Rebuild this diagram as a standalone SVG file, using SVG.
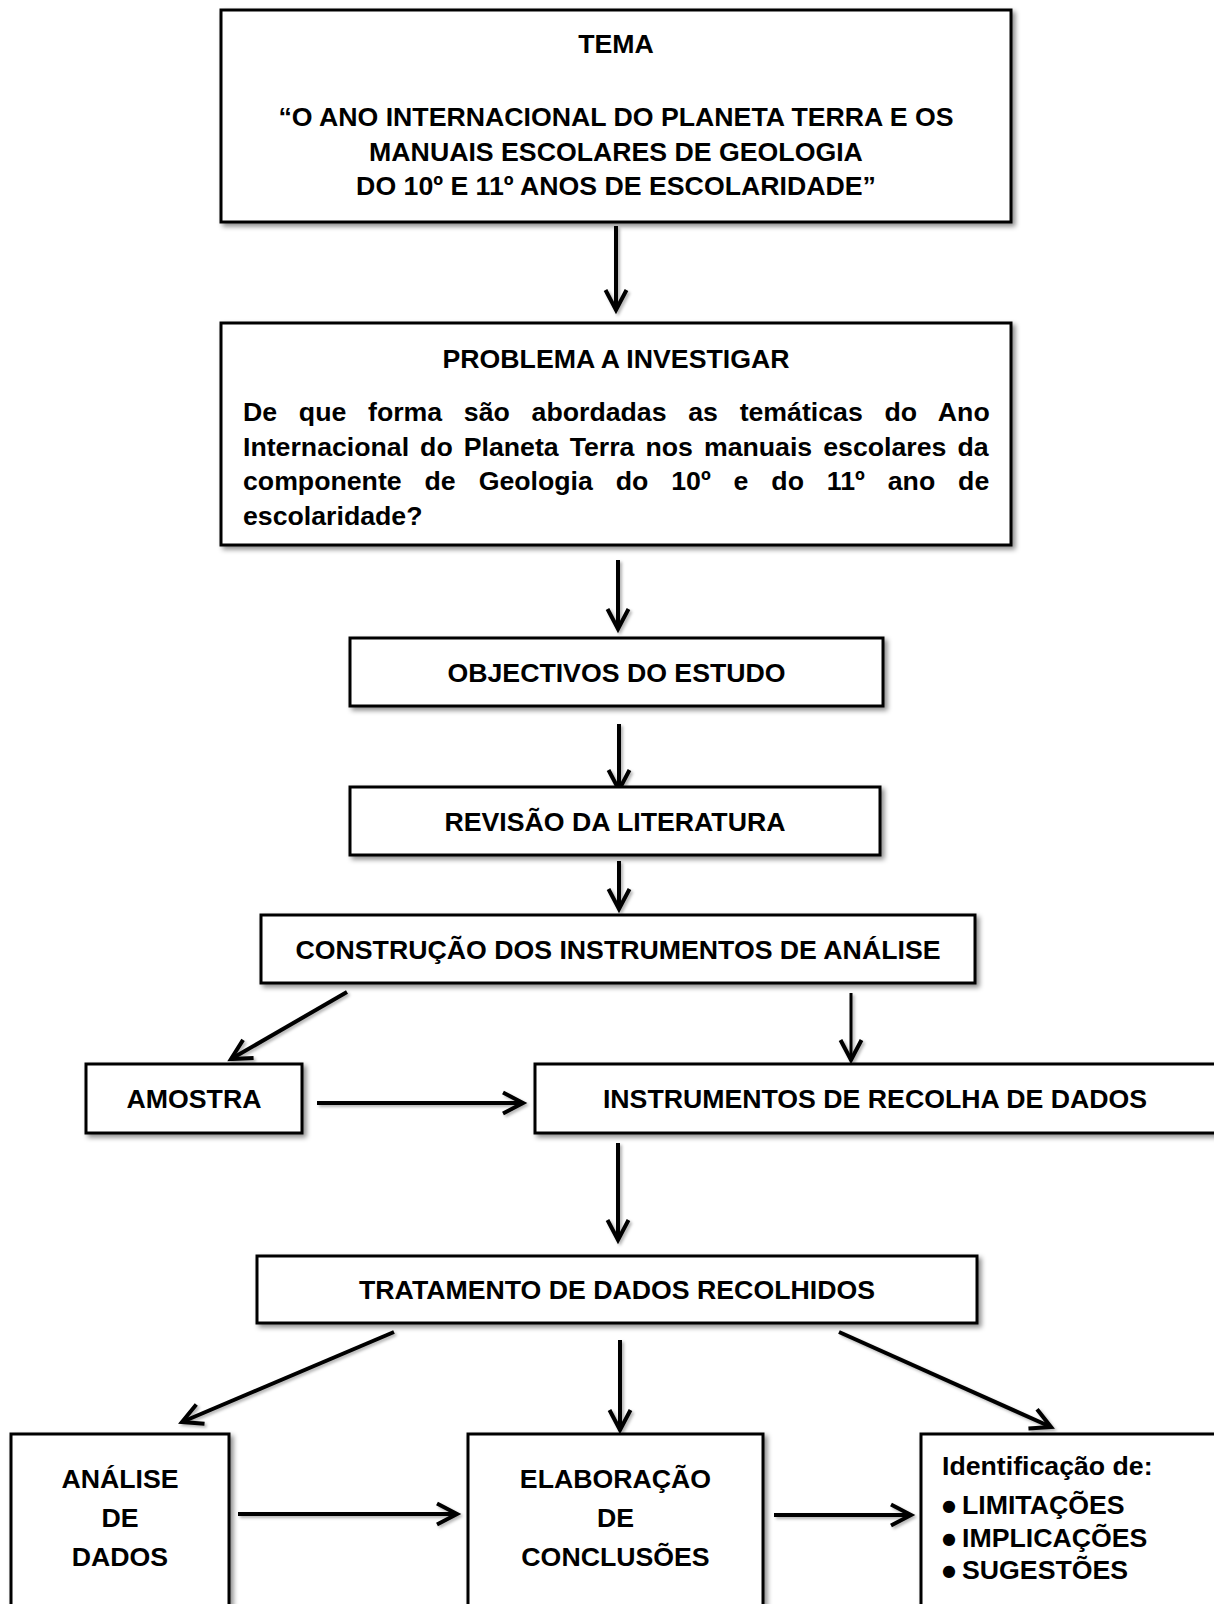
<svg xmlns="http://www.w3.org/2000/svg" width="1214" height="1604" viewBox="0 0 1214 1604">
  <defs>
    <filter id="shadow" x="-10%" y="-10%" width="125%" height="130%">
      <feDropShadow dx="3" dy="3" stdDeviation="2.5" flood-color="#000" flood-opacity="0.45"/>
    </filter>
    <filter id="lineShadow" filterUnits="userSpaceOnUse" x="0" y="0" width="1214" height="1604">
      <feDropShadow dx="2" dy="2" stdDeviation="1.5" flood-color="#000" flood-opacity="0.3"/>
    </filter>
    <marker id="arrow" markerUnits="userSpaceOnUse" viewBox="-26 -16 32 32" refX="0" refY="0" markerWidth="32" markerHeight="32" orient="auto" overflow="visible">
      <path d="M-20,-10.5 L0,0 L-20,10.5" fill="none" stroke="#000" stroke-width="4" stroke-linejoin="miter" stroke-linecap="butt"/>
    </marker>
  </defs>
  <style>
    .box { fill: #fff; stroke: #000; stroke-width: 3; filter: url(#shadow); }
    .t { font-family: "Liberation Sans", Arial, sans-serif; font-weight: bold; font-size: 26.7px; fill: #000; }
    .c { text-anchor: middle; }
    .bul { font-family: "DejaVu Sans", sans-serif; font-weight: normal; font-size: 16px; }
    .conn { stroke: #000; stroke-width: 4; fill: none; marker-end: url(#arrow); }
  </style>

  <rect width="1214" height="1604" fill="#fff"/>

  <!-- connectors -->
  <g id="connectors" filter="url(#lineShadow)">
    <line class="conn" x1="616" y1="226" x2="616" y2="310"/>
    <line class="conn" x1="618" y1="560" x2="618" y2="629"/>
    <line class="conn" x1="619" y1="724" x2="619" y2="790"/>
    <line class="conn" x1="619" y1="861" x2="619" y2="909"/>
    <line class="conn" x1="347" y1="992" x2="231" y2="1059"/>
    <line class="conn" x1="851" y1="993" x2="851" y2="1060" style="stroke-width:3"/>
    <line class="conn" x1="317" y1="1103" x2="523" y2="1103"/>
    <line class="conn" x1="618" y1="1143" x2="618" y2="1240"/>
    <line class="conn" x1="394" y1="1332" x2="182" y2="1422"/>
    <line class="conn" x1="620" y1="1340" x2="620" y2="1430"/>
    <line class="conn" x1="839" y1="1332" x2="1051" y2="1427"/>
    <line class="conn" x1="238" y1="1514" x2="457" y2="1514"/>
    <line class="conn" x1="774" y1="1515" x2="911" y2="1515"/>
  </g>

  <!-- theme -->
  <g id="tema">
    <rect class="box" x="221" y="10" width="790" height="212"/>
    <text class="t c" x="616" y="53">TEMA</text>
    <text class="t c" x="616" y="126">“O ANO INTERNACIONAL DO PLANETA TERRA E OS</text>
    <text class="t c" x="616" y="160.5">MANUAIS ESCOLARES DE GEOLOGIA</text>
    <text class="t c" x="616" y="195">DO 10º E 11º ANOS DE ESCOLARIDADE”</text>
  </g>

  <!-- research problem -->
  <g id="problema">
    <rect class="box" x="221" y="323" width="790" height="222"/>
    <text class="t c" x="616" y="368">PROBLEMA A INVESTIGAR</text>
    <text class="t" x="243" y="421" word-spacing="14.3">De que forma são abordadas as temáticas do Ano</text>
    <text class="t" x="243" y="456" word-spacing="3.6">Internacional do Planeta Terra nos manuais escolares da</text>
    <text class="t" x="243" y="490" word-spacing="15.5">componente de Geologia do 10º e do 11º ano de</text>
    <text class="t" x="243" y="525">escolaridade?</text>
  </g>

  <g id="objectivos">
    <rect class="box" x="350" y="638" width="533" height="68"/>
    <text class="t c" x="616.5" y="682">OBJECTIVOS DO ESTUDO</text>
  </g>

  <g id="revisao">
    <rect class="box" x="350" y="787" width="530" height="68"/>
    <text class="t c" x="615" y="830.5">REVISÃO DA LITERATURA</text>
  </g>

  <g id="construcao">
    <rect class="box" x="261" y="915" width="714" height="68"/>
    <text class="t c" x="618" y="958.5">CONSTRUÇÃO DOS INSTRUMENTOS DE ANÁLISE</text>
  </g>

  <g id="amostra">
    <rect class="box" x="86" y="1064" width="216" height="69"/>
    <text class="t c" x="194" y="1108">AMOSTRA</text>
  </g>

  <g id="instrumentos">
    <rect class="box" x="535" y="1064" width="682" height="69"/>
    <text class="t c" x="875" y="1108">INSTRUMENTOS DE RECOLHA DE DADOS</text>
  </g>

  <g id="tratamento">
    <rect class="box" x="257" y="1256" width="720" height="67"/>
    <text class="t c" x="617" y="1299">TRATAMENTO DE DADOS RECOLHIDOS</text>
  </g>

  <g id="analise">
    <rect class="box" x="11" y="1434" width="218" height="200"/>
    <text class="t c" x="120" y="1488">ANÁLISE</text>
    <text class="t c" x="120" y="1527">DE</text>
    <text class="t c" x="120" y="1566">DADOS</text>
  </g>

  <g id="elaboracao">
    <rect class="box" x="468" y="1434" width="295" height="200"/>
    <text class="t c" x="615.5" y="1488">ELABORAÇÃO</text>
    <text class="t c" x="615.5" y="1527">DE</text>
    <text class="t c" x="615.5" y="1566">CONCLUSÕES</text>
  </g>

  <g id="identificacao">
    <rect class="box" x="921" y="1434" width="300" height="200"/>
    <text class="t" x="942" y="1475">Identificação de:</text>
    <text class="t" x="942" y="1514"><tspan class="bul" dy="-3.5">●</tspan><tspan x="962" dy="3.5">LIMITAÇÕES</tspan></text>
    <text class="t" x="942" y="1547"><tspan class="bul" dy="-3.5">●</tspan><tspan x="962" dy="3.5">IMPLICAÇÕES</tspan></text>
    <text class="t" x="942" y="1579"><tspan class="bul" dy="-3.5">●</tspan><tspan x="962" dy="3.5">SUGESTÕES</tspan></text>
  </g>
</svg>
